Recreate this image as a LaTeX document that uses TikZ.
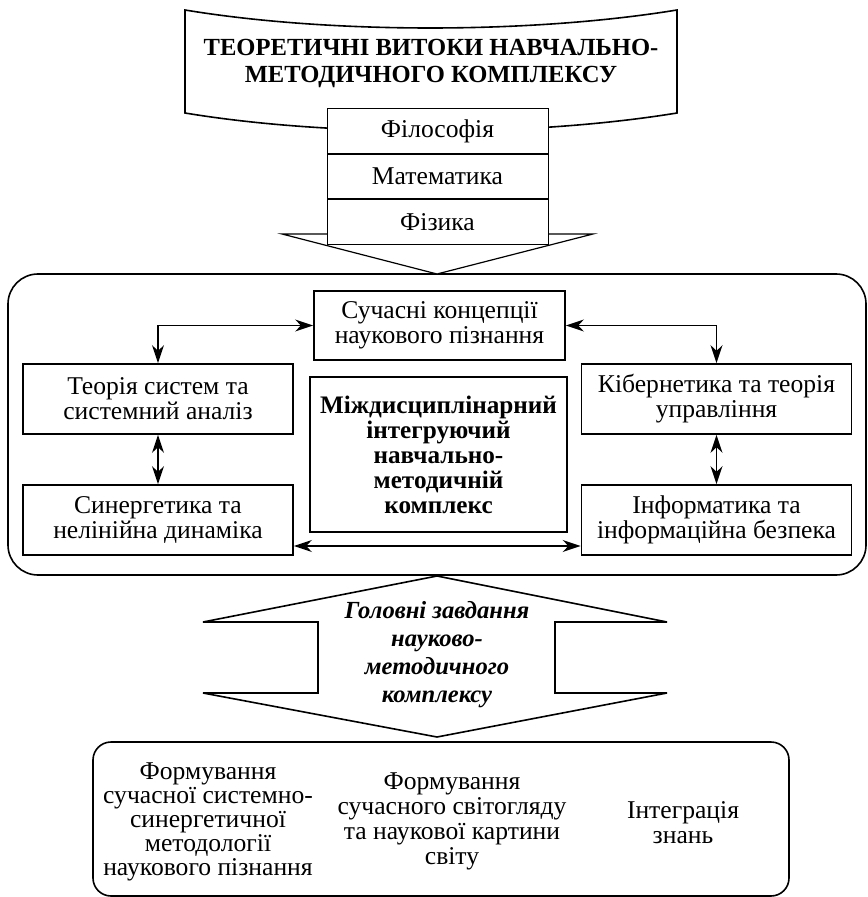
\documentclass[tikz,border=0pt]{standalone}
\usepackage{fontspec}
\setmainfont{Liberation Serif}
\usetikzlibrary{arrows.meta,positioning}

\begin{document}
\begin{tikzpicture}[
x=0.5pt, y=-0.5pt,
box/.style={
    rectangle,
    draw,
    line width=0.9pt,
    fill=white,
    align=center,
    inner sep=0pt,
    minimum width=135pt,
    minimum height=35pt,
    font=\fontsize{12.8}{12.5}\selectfont
},
src/.style={box, line width=0.5pt, minimum width=110.5pt, minimum height=22.25pt},
frame/.style={draw, line width=0.8pt, fill=white},
txt/.style={align=center, inner sep=0pt, font=\fontsize{12.8}{12}\selectfont},
arr/.style={{Stealth[length=9pt,width=6pt]}-{Stealth[length=9pt,width=6pt]}, line width=0.9pt}
]
\useasboundingbox (0,0) rectangle (867,897);

% banner with the title
\draw[frame] (185,10) .. controls (330,34) and (530,34) .. (677,10)
  -- (677,113) .. controls (530,137) and (330,137) .. (185,113) -- cycle;
\node[txt, font=\bfseries\fontsize{12.3}{13.5}\selectfont] (title) at (431,63) {ТЕОРЕТИЧНІ ВИТОКИ НАВЧАЛЬНО-\\МЕТОДИЧНОГО КОМПЛЕКСУ};

% main frame and the arrow into it
\draw[frame, rounded corners=15pt] (8,274) rectangle (866,575);
\draw[frame, line width=0.6pt] (282,234) -- (593,234) -- (437,274) -- cycle;

\node[src] (phil) at (437.5,131) {Філософія};
\node[src, below=0pt of phil] (math) {Математика};
\node[src, below=0pt of math] (phys) {Фізика};

\node[box, minimum width=125.5pt, minimum height=34.5pt] (conc) at (439.5,325.5) {Сучасні концепції\\наукового пізнання};
\node[box] (sys) at (158,399) {Теорія систем та\\системний аналіз};
\node[box] (syn) at (158,520) {Синергетика та\\нелінійна динаміка};
\node[box] (cyb) at (716.5,399) {Кібернетика та теорія\\управління};
\node[box] (inf) at (716.5,520) {Інформатика та\\інформаційна безпека};
\node[box, minimum width=128.5pt, minimum height=77.5pt, font=\bfseries\fontsize{12.6}{12.5}\selectfont] (core) at (438.5,454.5) {Міждисциплінарний\\інтегруючий\\навчально-\\методичній\\комплекс};

\draw[arr] (conc.west) -| (sys.north);
\draw[arr] (conc.east) -| (cyb.north);
\draw[arr] (sys) -- (syn);
\draw[arr] (cyb) -- (inf);
\draw[arr] ([yshift=-13pt]syn.east) -- ([yshift=-13pt]inf.west);

% tasks arrow
\draw[frame] (437,576) -- (667,622) -- (555,622) -- (555,693) -- (667,693) -- (437,737)
  -- (203,693) -- (318,693) -- (318,622) -- (203,622) -- cycle;
\node[txt, font=\bfseries\itshape\fontsize{12.3}{14}\selectfont] (task) at (437,655) {Головні завдання\\науково-\\методичного\\комплексу};

% tasks
\draw[frame, rounded corners=9pt] (93,742) rectangle (789,896);
\node[txt] (meth) at (208,822) {Формування\\сучасної системно-\\синергетичної\\методології\\наукового пізнання};
\node[txt, font=\fontsize{12.8}{12.5}\selectfont] (view) at (452,821) {Формування\\сучасного світогляду\\та наукової картини\\світу};
\node[txt, font=\fontsize{12.8}{12.5}\selectfont] (integ) at (683,823) {Інтеграція\\знань};
\end{tikzpicture}
\end{document}
